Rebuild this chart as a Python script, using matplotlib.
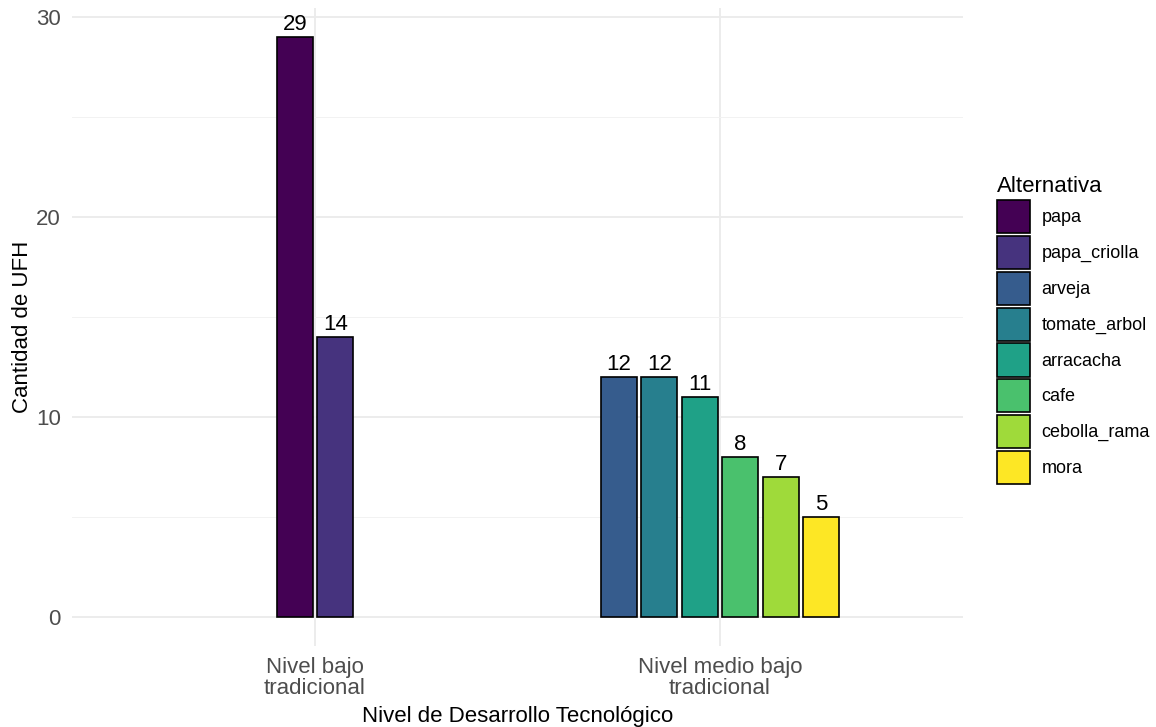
import numpy as np
import matplotlib
matplotlib.use("Agg")
import matplotlib.pyplot as plt
from matplotlib.patches import Patch

plt.rcParams['font.family'] = ['Liberation Sans', 'DejaVu Sans']

# data
niveles = ["Nivel bajo\ntradicional", "Nivel medio bajo\ntradicional"]
alternativas = ["papa", "papa_criolla", "arveja", "tomate_arbol",
                "arracacha", "cafe", "cebolla_rama", "mora"]
colores = ["#440154", "#46337E", "#365C8D", "#277F8E",
           "#1FA187", "#4AC16D", "#9FDA3A", "#FDE725"]
grupo1 = ["papa", "papa_criolla"]
valores1 = [29, 14]
grupo2 = ["arveja", "tomate_arbol", "arracacha", "cafe", "cebolla_rama", "mora"]
valores2 = [12, 12, 11, 8, 7, 5]

fig = plt.figure(figsize=(11.56, 7.27), dpi=100)
W, H = 1156, 727
ax = fig.add_axes([72 / W, 81 / H, (963 - 72) / W, (646 - 8) / H])

slot = 0.1
bw = 0.09
cmap = dict(zip(alternativas, colores))
for gx, (cats, vals) in enumerate([(grupo1, valores1), (grupo2, valores2)], start=1):
    n = len(cats)
    for i, (c, v) in enumerate(zip(cats, vals)):
        x = gx + (i - (n - 1) / 2) * slot
        ax.bar(x, v, width=bw, color=cmap[c], edgecolor="black", linewidth=1.2, zorder=3)
        ax.text(x, v + 0.1, str(v), ha="center", va="bottom", fontsize=16, zorder=4)

ax.set_xlim(0.4, 2.6)
ax.set_ylim(-1.45, 30.45)
ax.set_xticks([1, 2])
ax.set_xticklabels(niveles, fontsize=16, color="#4D4D4D", linespacing=1.0)
ax.set_yticks([0, 10, 20, 30])
ax.set_yticks([5, 15, 25], minor=True)
ax.tick_params(axis="y", labelsize=16, labelcolor="#4D4D4D", length=0, which="both", pad=8)
ax.tick_params(axis="x", length=0, pad=8)
ax.grid(True, which="major", color="#EBEBEB", linewidth=1.3, zorder=0)
ax.grid(True, which="minor", axis="y", color="#F2F2F2", linewidth=0.7, zorder=0)
for s in ax.spines.values():
    s.set_visible(False)

ax.set_xlabel("Nivel de Desarrollo Tecnológico", fontsize=16, labelpad=5)
ax.set_ylabel("Cantidad de UFH", fontsize=16, labelpad=2)

handles = [Patch(facecolor=c, edgecolor="black", linewidth=1.2) for c in colores]
leg = fig.legend(handles, alternativas, title="Alternativa", loc="upper left",
                 bbox_to_anchor=(990 / W, 1 - 169 / H), frameon=False,
                 fontsize=13, title_fontsize=16, handlelength=1.8,
                 handleheight=2.44, labelspacing=0.155, handletextpad=0.65,
                 borderaxespad=0)
leg._legend_box.align = "left"

fig.savefig("out.png", dpi=100)
